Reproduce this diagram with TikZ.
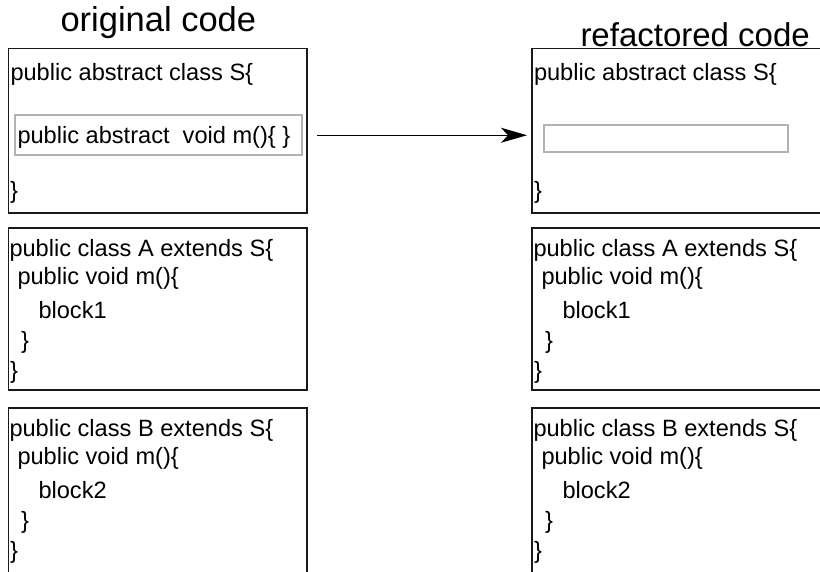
\documentclass[tikz,border=0pt]{standalone}
\usepackage{fontspec}
\setmainfont{Liberation Sans}
\usetikzlibrary{arrows.meta}
\tikzset{
  codebox/.style={draw=black!90, line width=1.3pt, inner sep=0pt, outer sep=0pt},
  innerbox/.style={draw=black!30, line width=1.8pt, inner sep=0pt, outer sep=0pt},
  code/.style={anchor=base west, inner sep=0pt, outer sep=0pt, font=\fontsize{23.6}{28}\selectfont},
  title/.style={anchor=base west, inner sep=0pt, outer sep=0pt},
  conn/.style={line width=1.4pt, -{Stealth[length=26pt,width=15pt,inset=7pt]}}
}
\begin{document}
\begin{tikzpicture}[x=1pt,y=-1pt]
\useasboundingbox (0,0) rectangle (820,571);
\clip (0,0) rectangle (820,571);
% titles
\node[title, font=\fontsize{34.5}{41}\selectfont] (t1) at (60.5,31) {original code};
\node[title, font=\fontsize{33}{40}\selectfont] (t2) at (580.5,46) {refactored code};
% left boxes
\node[codebox, minimum width=298.5pt, minimum height=164.5pt] (L1) at (157.75,130.75) {};
\node[codebox, minimum width=298.5pt, minimum height=162pt] (L2) at (157.75,309) {};
\node[codebox, minimum width=298.5pt, minimum height=192pt] (L3) at (157.75,504) {};
% right boxes
\node[codebox, minimum width=318pt, minimum height=164.5pt] (R1) at (691,130.75) {};
\node[codebox, minimum width=318pt, minimum height=162pt] (R2) at (691,309) {};
\node[codebox, minimum width=318pt, minimum height=192pt] (R3) at (691,504) {};
% inner boxes
\node[innerbox, minimum width=287pt, minimum height=40pt] (LI) at (158.5,135) {};
\node[innerbox, minimum width=244pt, minimum height=27pt] (RI) at (666,138.5) {};
% left box 1
\node[code] (l1a) at (10.5,80) {public abstract class S\{};
\node[code] (l1b) at (17.5,143) {public abstract~ void m()\{ \}};
\node[code] (l1c) at (10,198) {\}};
% left box 2
\node[code] (l2a) at (9.5,256) {public class A extends S\{};
\node[code] (l2b) at (17.5,284) {public void m()\{};
\node[code] (l2c) at (38.5,318) {block1};
\node[code] (l2d) at (21,348) {\}};
\node[code] (l2e) at (10,378) {\}};
% left box 3
\node[code] (l3a) at (9.5,436) {public class B extends S\{};
\node[code] (l3b) at (17.5,464) {public void m()\{};
\node[code] (l3c) at (38.5,498) {block2};
\node[code] (l3d) at (21,528) {\}};
\node[code] (l3e) at (10,558) {\}};
% right box 1
\node[code] (r1a) at (534,80) {public abstract class S\{};
\node[code] (r1c) at (534,198) {\}};
% right box 2
\node[code] (r2a) at (533.5,256) {public class A extends S\{};
\node[code] (r2b) at (541.5,284) {public void m()\{};
\node[code] (r2c) at (562.5,318) {block1};
\node[code] (r2d) at (545,348) {\}};
\node[code] (r2e) at (534,378) {\}};
% right box 3
\node[code] (r3a) at (533.5,436) {public class B extends S\{};
\node[code] (r3b) at (541.5,464) {public void m()\{};
\node[code] (r3c) at (562.5,498) {block2};
\node[code] (r3d) at (545,528) {\}};
\node[code] (r3e) at (534,558) {\}};
% arrow
\draw[conn] ([xshift=10pt,yshift=-4.5pt]L1.east) -- ([xshift=-5pt,yshift=-4.5pt]R1.west);
\end{tikzpicture}
\end{document}
